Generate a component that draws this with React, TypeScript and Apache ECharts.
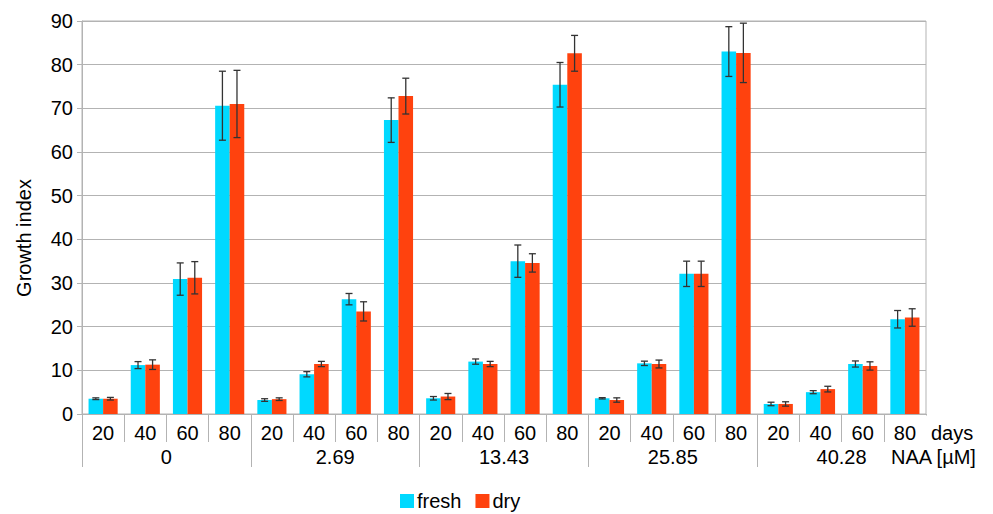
import React, { useEffect, useRef } from "react";
import * as echarts from "echarts";

const days = ["20", "40", "60", "80", "20", "40", "60", "80", "20", "40", "60", "80", "20", "40", "60", "80", "20", "40", "60", "80"];
const naaGroups = ["0", "2.69", "13.43", "25.85", "40.28"];
const fresh = [3.5, 11.2, 30.9, 70.6, 3.2, 9.1, 26.3, 67.3, 3.6, 12.0, 35.0, 75.4, 3.6, 11.6, 32.1, 83.0, 2.3, 5.0, 11.45, 21.7];
const freshErr = [0.2, 0.8, 3.7, 7.9, 0.3, 0.6, 1.3, 5.1, 0.4, 0.6, 3.7, 5.1, 0.15, 0.5, 2.9, 5.7, 0.4, 0.35, 0.7, 2.0];
const dry = [3.5, 11.3, 31.2, 71.0, 3.4, 11.45, 23.5, 72.8, 4.0, 11.45, 34.6, 82.6, 3.2, 11.45, 32.1, 82.7, 2.3, 5.7, 11.0, 22.1];
const dryErr = [0.3, 1.1, 3.7, 7.7, 0.3, 0.6, 2.2, 4.1, 0.7, 0.6, 2.1, 4.1, 0.5, 0.9, 2.9, 6.8, 0.5, 0.65, 0.95, 2.0];

const FONT = "Liberation Sans, Arial, sans-serif";
const GAP = 0.31;

function makeErr(sign: number) {
  return (params: any, api: any) => {
    const i = api.value(0);
    const v = api.value(1);
    const e = api.value(2);
    const c = api.coord([i, v]);
    const bw = api.size([1, 0])[0];
    const x = c[0] + sign * (bw * (1 - GAP)) / 4;
    const top = api.coord([i, v + e])[1];
    const bot = api.coord([i, v - e])[1];
    const cap = 3.5;
    const st = { stroke: "#333333", lineWidth: 1.3 };
    return {
      type: "group",
      children: [
        { type: "line", shape: { x1: x, y1: top, x2: x, y2: bot }, style: st },
        { type: "line", shape: { x1: x - cap, y1: top, x2: x + cap, y2: top }, style: st },
        { type: "line", shape: { x1: x - cap, y1: bot, x2: x + cap, y2: bot }, style: st },
      ],
    };
  };
}

export default function App() {
  const ref = useRef<HTMLDivElement>(null);
  useEffect(() => {
    if (!ref.current) return;
    const chart = echarts.init(ref.current, undefined, { renderer: "svg" });
    chart.setOption({
      animation: false,
      textStyle: { fontFamily: FONT },
      grid: { left: 82, right: 67, top: 21, bottom: 100, show: true, borderColor: "#b3b3b3", borderWidth: 1 },
      legend: {
        left: 400,
        top: 491,
        padding: 0,
        itemWidth: 14,
        itemHeight: 14,
        itemGap: 14,
        icon: "rect",
        textStyle: { fontSize: 20, color: "#000", fontFamily: FONT, padding: [0, 0, 0, -2] },
        data: ["fresh", "dry"],
      },
      xAxis: [
        {
          type: "category",
          data: days,
          axisLine: { lineStyle: { color: "#b3b3b3" } },
          axisTick: { show: true, interval: 0, length: 28, lineStyle: { color: "#b3b3b3" } },
          axisLabel: { interval: 0, fontSize: 20, color: "#000", margin: 9, fontFamily: FONT },
        },
        {
          type: "category",
          data: naaGroups,
          position: "bottom",
          axisLine: { show: false },
          axisTick: { show: true, interval: 0, length: 53, lineStyle: { color: "#b3b3b3" } },
          axisLabel: { interval: 0, fontSize: 20, color: "#000", margin: 33, fontFamily: FONT },
        },
      ],
      yAxis: {
        type: "value",
        min: 0,
        max: 90,
        interval: 10,
        axisLine: { show: true, lineStyle: { color: "#b3b3b3" } },
        axisTick: { show: true, length: 5, lineStyle: { color: "#b3b3b3" } },
        axisLabel: { fontSize: 20, color: "#000", margin: 9, fontFamily: FONT },
        splitLine: { lineStyle: { color: "#b3b3b3" } },
      },
      graphic: [
        { type: "rect", shape: { x: 924.5, y: 415.5, width: 4, height: 60 }, style: { fill: "#ffffff" }, z: 100 },
        { type: "text", x: 24, y: 238, rotation: Math.PI / 2, z: 200, style: { text: "Growth index", font: "20px Liberation Sans", fill: "#000", align: "center", verticalAlign: "middle" } },
        { type: "text", x: 931, y: 433, z: 200, style: { text: "days", font: "20px Liberation Sans", fill: "#000", verticalAlign: "middle" } },
        { type: "text", x: 891, y: 457, z: 200, style: { text: "NAA [µM]", font: "20px Liberation Sans", fill: "#000", verticalAlign: "middle" } },
      ],
      series: [
        {
          name: "fresh",
          type: "bar",
          data: fresh,
          barGap: "0%",
          barCategoryGap: GAP * 100 + "%",
          itemStyle: { color: "#00d9ff" },
        },
        {
          name: "dry",
          type: "bar",
          data: dry,
          barGap: "0%",
          barCategoryGap: GAP * 100 + "%",
          itemStyle: { color: "#ff420e" },
        },
        {
          type: "custom",
          renderItem: makeErr(-1),
          data: fresh.map((v, i) => [i, v, freshErr[i]]),
          encode: { x: 0, y: 1 },
          z: 10,
          silent: true,
        },
        {
          type: "custom",
          renderItem: makeErr(1),
          data: dry.map((v, i) => [i, v, dryErr[i]]),
          encode: { x: 0, y: 1 },
          z: 10,
          silent: true,
        },
      ],
    });
    return () => chart.dispose();
  }, []);
  return <div ref={ref} style={{ width: 993, height: 514, position: "absolute", left: 0, top: 0 }} />;
}
